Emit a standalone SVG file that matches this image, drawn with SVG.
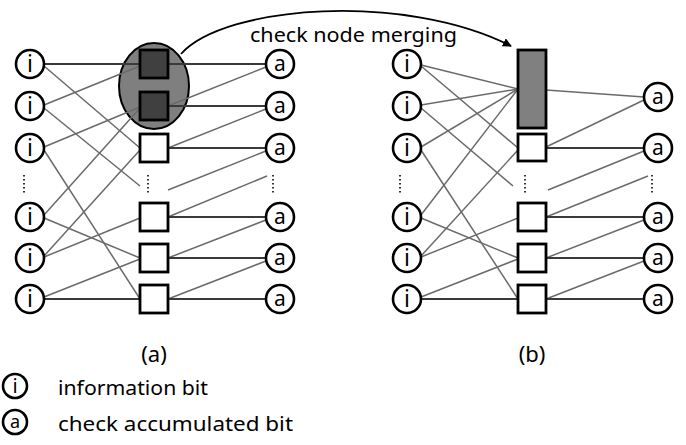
<svg xmlns="http://www.w3.org/2000/svg" width="686" height="445" viewBox="0 0 686 445">
  <style>
    .bg { fill: #ffffff; }
    .vn { fill: #ffffff; stroke: #000000; stroke-width: 2.6; }
    .cn { fill: #ffffff; stroke: #000000; stroke-width: 2.8; }
    .cn-dark { fill: #404040; stroke: #000000; stroke-width: 2.8; }
    .cn-merged { fill: #808080; stroke: #000000; stroke-width: 2.8; }
    .group { fill: #7f7f7f; stroke: #000000; stroke-width: 2; }
    .glyph { font-family: "Noto Sans", "DejaVu Sans", sans-serif; fill: #000000; text-anchor: middle; }
    .gi { font-size: 23px; }
    .ga { font-size: 21px; }
    .lbl { font-family: "Noto Sans", "Open Sans", sans-serif; font-size: 19px; fill: #000000; }
    .cap { font-size: 22px; }
    .e { stroke: #6a6a6a; stroke-width: 1.5; fill: none; }
    .h { stroke: #3a3a3a; stroke-width: 2; fill: none; }
    .dots { stroke: #000000; stroke-width: 1.6; stroke-dasharray: 1.6 2.4; fill: none; }
    .arc { stroke: #000000; stroke-width: 1.8; fill: none; }
  </style>
  <defs>
    <marker id="arrowhead" viewBox="0 0 10 10" refX="9" refY="5" markerWidth="5" markerHeight="5" orient="auto">
      <path d="M0,0 L10,5 L0,10 z" fill="#000000"/>
    </marker>
  </defs>

  <rect class="bg" x="0" y="0" width="686" height="445"/>

  <!-- merged-group highlight behind the two dark check nodes -->
  <g id="merge-group">
    <ellipse class="group" cx="154" cy="86" rx="35" ry="43"/>
  </g>

  <g id="connectors">
    <!-- (a) information bits to check nodes -->
    <line class="h" x1="44" y1="64" x2="140" y2="64"/>
    <line class="e" x1="44" y1="66" x2="140" y2="148"/>
    <line class="e" x1="44" y1="105" x2="140" y2="66"/>
    <line class="e" x1="44" y1="108" x2="140" y2="186"/>
    <line class="e" x1="44" y1="147" x2="140" y2="107"/>
    <line class="e" x1="44" y1="150" x2="140" y2="299"/>
    <line class="e" x1="44" y1="215" x2="140" y2="108"/>
    <line class="e" x1="44" y1="218" x2="140" y2="258"/>
    <line class="e" x1="44" y1="256" x2="140" y2="150"/>
    <line class="e" x1="44" y1="257" x2="140" y2="218"/>
    <line class="e" x1="44" y1="297" x2="140" y2="259"/>
    <line class="h" x1="44" y1="299" x2="140" y2="299"/>
    <!-- (a) check nodes to accumulator chain -->
    <line class="h" x1="168" y1="64" x2="266" y2="64"/>
    <line class="e" x1="266" y1="67" x2="168" y2="106"/>
    <line class="h" x1="168" y1="106" x2="266" y2="106"/>
    <line class="e" x1="266" y1="109" x2="168" y2="148"/>
    <line class="h" x1="168" y1="148" x2="266" y2="148"/>
    <line class="e" x1="266" y1="151" x2="168" y2="190"/>
    <line class="e" x1="267" y1="176" x2="168" y2="217"/>
    <line class="h" x1="168" y1="217" x2="266" y2="217"/>
    <line class="e" x1="266" y1="220" x2="168" y2="258"/>
    <line class="h" x1="168" y1="258" x2="266" y2="258"/>
    <line class="e" x1="266" y1="261" x2="168" y2="299"/>
    <line class="h" x1="168" y1="299" x2="266" y2="299"/>

    <!-- (b) information bits to check nodes -->
    <line class="e" x1="421" y1="65" x2="518" y2="89"/>
    <line class="e" x1="421" y1="66" x2="518" y2="148"/>
    <line class="e" x1="421" y1="105" x2="518" y2="89"/>
    <line class="e" x1="421" y1="108" x2="513" y2="186"/>
    <line class="e" x1="421" y1="147" x2="518" y2="89"/>
    <line class="e" x1="421" y1="150" x2="518" y2="299"/>
    <line class="e" x1="421" y1="215" x2="518" y2="89"/>
    <line class="e" x1="421" y1="218" x2="518" y2="258"/>
    <line class="e" x1="421" y1="256" x2="518" y2="150"/>
    <line class="e" x1="421" y1="257" x2="518" y2="218"/>
    <line class="e" x1="421" y1="297" x2="518" y2="259"/>
    <line class="h" x1="421" y1="299" x2="518" y2="299"/>
    <!-- (b) check nodes to accumulator chain -->
    <line class="e" x1="546" y1="90" x2="644" y2="97"/>
    <line class="e" x1="644" y1="100" x2="546" y2="147"/>
    <line class="h" x1="546" y1="148" x2="644" y2="148"/>
    <line class="e" x1="644" y1="151" x2="548" y2="190"/>
    <line class="e" x1="648" y1="176" x2="546" y2="217"/>
    <line class="h" x1="546" y1="217" x2="644" y2="217"/>
    <line class="e" x1="644" y1="220" x2="546" y2="258"/>
    <line class="h" x1="546" y1="258" x2="644" y2="258"/>
    <line class="e" x1="644" y1="261" x2="546" y2="299"/>
    <line class="h" x1="546" y1="299" x2="644" y2="299"/>

    <!-- merging arrow -->
    <path class="arc" d="M181,54 C225,5 405,-8 511,46" marker-end="url(#arrowhead)"/>
  </g>

  <!-- ===== (a) ===== -->
  <g id="a-info-1"><circle class="vn" cx="30" cy="64" r="14"/><text class="glyph gi" x="30" y="72">i</text></g>
  <g id="a-info-2"><circle class="vn" cx="30" cy="106" r="14"/><text class="glyph gi" x="30" y="114">i</text></g>
  <g id="a-info-3"><circle class="vn" cx="30" cy="148" r="14"/><text class="glyph gi" x="30" y="156">i</text></g>
  <g id="a-info-5"><circle class="vn" cx="30" cy="217" r="14"/><text class="glyph gi" x="30" y="225">i</text></g>
  <g id="a-info-6"><circle class="vn" cx="30" cy="258" r="14"/><text class="glyph gi" x="30" y="266">i</text></g>
  <g id="a-info-7"><circle class="vn" cx="30" cy="299" r="14"/><text class="glyph gi" x="30" y="307">i</text></g>
  <g id="a-info-dots"><line class="dots" x1="24" y1="175" x2="24" y2="194"/></g>

  <g id="a-check-1"><rect class="cn-dark" x="140" y="50" width="28" height="28"/></g>
  <g id="a-check-2"><rect class="cn-dark" x="140" y="92" width="28" height="28"/></g>
  <g id="a-check-3"><rect class="cn" x="140" y="134" width="28" height="28"/></g>
  <g id="a-check-dots"><line class="dots" x1="148" y1="175" x2="148" y2="194"/></g>
  <g id="a-check-5"><rect class="cn" x="140" y="203" width="28" height="28"/></g>
  <g id="a-check-6"><rect class="cn" x="140" y="244" width="28" height="28"/></g>
  <g id="a-check-7"><rect class="cn" x="140" y="285" width="28" height="28"/></g>

  <g id="a-acc-1"><circle class="vn" cx="280" cy="64" r="14"/><text class="glyph ga" x="280" y="71">a</text></g>
  <g id="a-acc-2"><circle class="vn" cx="280" cy="106" r="14"/><text class="glyph ga" x="280" y="113">a</text></g>
  <g id="a-acc-3"><circle class="vn" cx="280" cy="148" r="14"/><text class="glyph ga" x="280" y="155">a</text></g>
  <g id="a-acc-dots"><line class="dots" x1="273" y1="175" x2="273" y2="194"/></g>
  <g id="a-acc-5"><circle class="vn" cx="280" cy="217" r="14"/><text class="glyph ga" x="280" y="224">a</text></g>
  <g id="a-acc-6"><circle class="vn" cx="280" cy="258" r="14"/><text class="glyph ga" x="280" y="265">a</text></g>
  <g id="a-acc-7"><circle class="vn" cx="280" cy="299" r="14"/><text class="glyph ga" x="280" y="306">a</text></g>

  <!-- ===== (b) ===== -->
  <g id="b-info-1"><circle class="vn" cx="407" cy="64" r="14"/><text class="glyph gi" x="407" y="72">i</text></g>
  <g id="b-info-2"><circle class="vn" cx="407" cy="106" r="14"/><text class="glyph gi" x="407" y="114">i</text></g>
  <g id="b-info-3"><circle class="vn" cx="407" cy="148" r="14"/><text class="glyph gi" x="407" y="156">i</text></g>
  <g id="b-info-dots"><line class="dots" x1="400" y1="175" x2="400" y2="194"/></g>
  <g id="b-info-5"><circle class="vn" cx="407" cy="217" r="14"/><text class="glyph gi" x="407" y="225">i</text></g>
  <g id="b-info-6"><circle class="vn" cx="407" cy="258" r="14"/><text class="glyph gi" x="407" y="266">i</text></g>
  <g id="b-info-7"><circle class="vn" cx="407" cy="299" r="14"/><text class="glyph gi" x="407" y="307">i</text></g>

  <g id="b-check-merged"><rect class="cn-merged" x="518" y="50" width="28" height="78"/></g>
  <g id="b-check-3"><rect class="cn" x="518" y="134" width="28" height="27"/></g>
  <g id="b-check-dots"><line class="dots" x1="525" y1="175" x2="525" y2="194"/></g>
  <g id="b-check-5"><rect class="cn" x="518" y="203" width="28" height="28"/></g>
  <g id="b-check-6"><rect class="cn" x="518" y="244" width="28" height="28"/></g>
  <g id="b-check-7"><rect class="cn" x="518" y="285" width="28" height="28"/></g>

  <g id="b-acc-1"><circle class="vn" cx="658" cy="97" r="14"/><text class="glyph ga" x="658" y="104">a</text></g>
  <g id="b-acc-2"><circle class="vn" cx="658" cy="148" r="14"/><text class="glyph ga" x="658" y="155">a</text></g>
  <g id="b-acc-dots"><line class="dots" x1="652" y1="175" x2="652" y2="194"/></g>
  <g id="b-acc-5"><circle class="vn" cx="658" cy="217" r="14"/><text class="glyph ga" x="658" y="224">a</text></g>
  <g id="b-acc-6"><circle class="vn" cx="658" cy="258" r="14"/><text class="glyph ga" x="658" y="265">a</text></g>
  <g id="b-acc-7"><circle class="vn" cx="658" cy="299" r="14"/><text class="glyph ga" x="658" y="306">a</text></g>

  <!-- captions -->
  <text class="lbl" x="250" y="42" textLength="207" lengthAdjust="spacingAndGlyphs">check node merging</text>
  <text class="lbl cap" x="154" y="362" text-anchor="middle">(a)</text>
  <text class="lbl cap" x="532" y="362" text-anchor="middle">(b)</text>

  <!-- legend -->
  <g id="legend-info"><circle class="vn" cx="15" cy="386" r="12"/><text class="glyph" x="15" y="393" font-size="20">i</text></g>
  <text class="lbl" x="58" y="395" textLength="150" lengthAdjust="spacingAndGlyphs">information bit</text>
  <g id="legend-acc"><circle class="vn" cx="15" cy="422" r="12"/><text class="glyph" x="15" y="428" font-size="18">a</text></g>
  <text class="lbl" x="58" y="431" textLength="235" lengthAdjust="spacingAndGlyphs">check accumulated bit</text>
</svg>
